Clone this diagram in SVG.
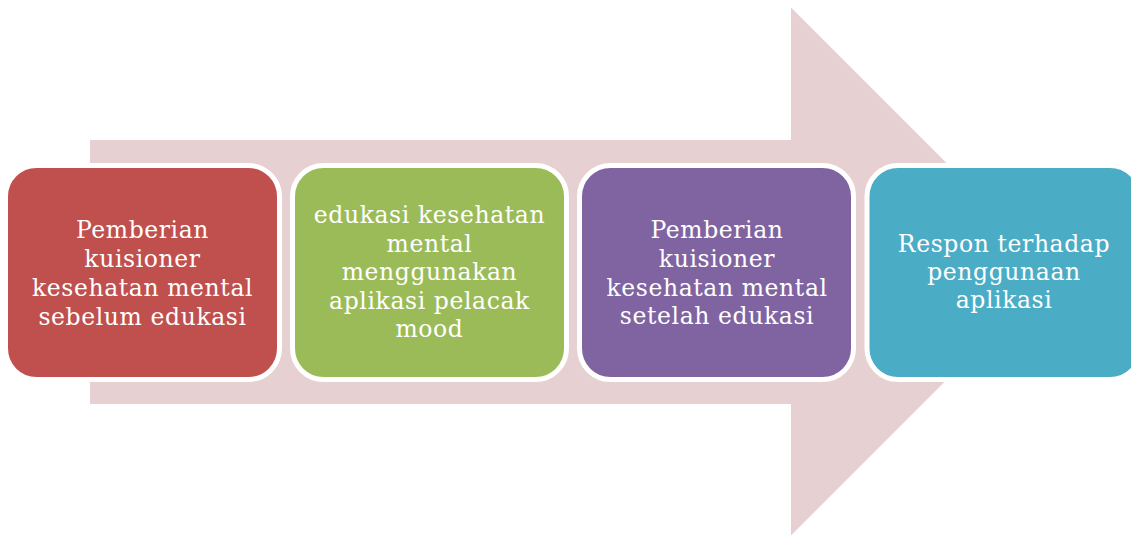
<svg xmlns="http://www.w3.org/2000/svg" width="1131" height="535" viewBox="0 0 1131 535">
  <style>
    .box { stroke: #FFFFFF; stroke-width: 5; }
    .lbl { font-family: "DejaVu Serif", "Liberation Serif", serif; font-size: 23.5px; letter-spacing: 0.6px; fill: #FFFFFF; text-anchor: middle; }
  </style>
  <rect width="1131" height="535" fill="#FFFFFF"/>
  <g id="arrow">
    <polygon points="90,140 791,140 791,7.5 1055,271.5 791,535.5 791,404 90,404" fill="#E7D0D1"/>
  </g>
  <g id="connectors"></g>
  <g id="node1">
    <rect class="box" x="5.5" y="165.5" width="274" height="214" rx="31" fill="#C0504D"/>
    <text class="lbl" x="142.5" y="238">Pemberian</text>
    <text class="lbl" x="142.5" y="267">kuisioner</text>
    <text class="lbl" x="142.5" y="296">kesehatan mental</text>
    <text class="lbl" x="142.5" y="325">sebelum edukasi</text>
  </g>
  <g id="node2">
    <rect class="box" x="292.5" y="165.5" width="274" height="214" rx="31" fill="#9BBB59"/>
    <text class="lbl" x="429.5" y="223">edukasi kesehatan</text>
    <text class="lbl" x="429.5" y="251.5">mental</text>
    <text class="lbl" x="429.5" y="280">menggunakan</text>
    <text class="lbl" x="429.5" y="308.5">aplikasi pelacak</text>
    <text class="lbl" x="429.5" y="337">mood</text>
  </g>
  <g id="node3">
    <rect class="box" x="579.5" y="165.5" width="274" height="214" rx="31" fill="#8064A2"/>
    <text class="lbl" x="717" y="238">Pemberian</text>
    <text class="lbl" x="717" y="267">kuisioner</text>
    <text class="lbl" x="717" y="296">kesehatan mental</text>
    <text class="lbl" x="717" y="324">setelah edukasi</text>
  </g>
  <g id="node4">
    <rect class="box" x="867" y="165.5" width="274" height="214" rx="31" fill="#4BACC6"/>
    <text class="lbl" x="1004" y="252">Respon terhadap</text>
    <text class="lbl" x="1004" y="280">penggunaan</text>
    <text class="lbl" x="1004" y="308">aplikasi</text>
  </g>
</svg>
